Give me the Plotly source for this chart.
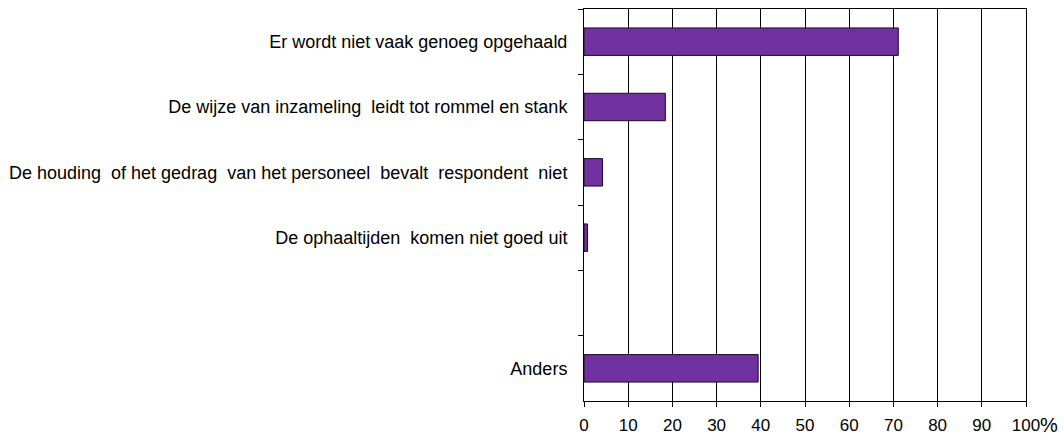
import plotly.graph_objects as go

categories = [
    "Er wordt niet vaak genoeg opgehaald",
    "De wijze van inzameling  leidt tot rommel en stank",
    "De houding  of het gedrag  van het personeel  bevalt  respondent  niet",
    "De ophaaltijden  komen niet goed uit",
    " ",
    "Anders",
]
values = [71.1, 18.4, 4.2, 0.8, None, 39.4]
x_ticks = [0, 10, 20, 30, 40, 50, 60, 70, 80, 90, 100]

fig = go.Figure()
fig.add_trace(go.Bar(
    x=values, y=categories, orientation='h',
    marker=dict(color='#7030A0', line=dict(color='#1a0a26', width=1)),
))

fig.update_yaxes(
    type='category', categoryorder='array', categoryarray=categories,
    autorange='reversed', tickson='boundaries', automargin=False,
    ticks='outside', ticklen=5, tickcolor='black',
    showline=True, linecolor='black', linewidth=1, mirror=True,
    showgrid=False, ticklabelstandoff=12,
)
fig.update_xaxes(
    range=[0, 100], tickvals=x_ticks, ticks='outside', ticklen=5,
    tickcolor='black', showline=True, linecolor='black', linewidth=1,
    mirror=True, showgrid=True, gridcolor='black', gridwidth=1,
    zeroline=False, automargin=False, ticklabelstandoff=4,
    tickfont=dict(size=17),
)
fig.add_annotation(x=1.0, y=0, xref='paper', yref='paper', text='%',
                   showarrow=False, xanchor='left', yanchor='middle',
                   xshift=12, yshift=-24, font=dict(size=20, color='black'))

fig.update_layout(
    width=1064, height=434, bargap=0.58, showlegend=False,
    plot_bgcolor='white', paper_bgcolor='white',
    font=dict(family='Liberation Sans, Arial, sans-serif', size=18, color='black'),
    margin=dict(l=584, r=38, t=9, b=33),
)

fig.write_html("out.html", config={'displayModeBar': False},
               post_script="document.body.style.margin='0';")
